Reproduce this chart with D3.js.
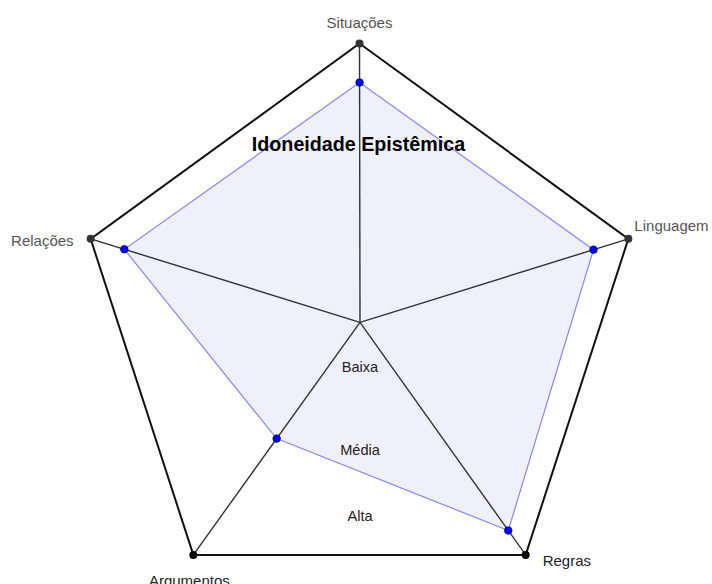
<!DOCTYPE html>
<html>
<head>
<meta charset="utf-8">
<script src="https://cdnjs.cloudflare.com/ajax/libs/d3/7.8.5/d3.min.js"></script>
<style>
  body { margin: 0; background: #fff; }
  text { font-family: "Liberation Sans", Arial, sans-serif; }
</style>
</head>
<body>
<div id="chart"></div>
<script>
(function() {
  var width = 712,
      height = 584;

  // eixos do radar
  var axes = ["Situações", "Linguagem", "Regras", "Argumentos", "Relações"];
  // valores (0 = centro, 1 = vértice externo)
  var values = [0.86, 0.87, 0.895, 0.50, 0.875];
  // níveis
  var levels = ["Baixa", "Média", "Alta"];
  var title = "Idoneidade Epistêmica";

  var cx = 359.5, cy = 326.2, R = 282.7;

  var svg = d3.select("#chart")
    .append("svg")
    .attr("width", width)
    .attr("height", height);

  var x = d3.scaleLinear().domain([-1, 1]).range([cx - R, cx + R]);
  var y = d3.scaleLinear().domain([-1, 1]).range([cy - R, cy + R]);
  var angle = d3.scaleLinear().domain([0, axes.length]).range([-Math.PI / 2, 1.5 * Math.PI]);

  var hub = [360, 322.3];

  var vertices = axes.map(function(d, i) {
    var a = angle(i);
    return [x(Math.cos(a)), y(Math.sin(a))];
  });

  var points = values.map(function(v, i) {
    var p = vertices[i];
    return [hub[0] + v * (p[0] - hub[0]), hub[1] + v * (p[1] - hub[1])];
  });

  var line = d3.line().curve(d3.curveLinearClosed);

  // área preenchida
  svg.append("path")
    .attr("d", line(points))
    .attr("fill", "#f0f0fd")
    .attr("stroke", "none");

  // eixos
  svg.selectAll(".axis")
    .data(vertices)
    .enter().append("line")
    .attr("class", "axis")
    .attr("x1", hub[0])
    .attr("y1", hub[1])
    .attr("x2", function(d) { return d[0] })
    .attr("y2", function(d) { return d[1] })
    .attr("stroke", "#333")
    .attr("stroke-width", 1.4);

  // pentágono externo
  svg.append("path")
    .attr("d", line(vertices))
    .attr("fill", "none")
    .attr("stroke", "#111")
    .attr("stroke-width", 2);

  svg.append("path")
    .attr("d", line(points))
    .attr("fill", "none")
    .attr("stroke", "#8585ff")
    .attr("stroke-width", 1.2);

  svg.selectAll(".vertex")
    .data(vertices)
    .enter().append("circle")
    .attr("class", "vertex")
    .attr("cx", function(d) { return d[0] })
    .attr("cy", function(d) { return d[1] })
    .attr("r", 4)
    .attr("fill", function(d, i) { return i >= 2 && i <= 3 ? "#000" : "#333" });

  svg.selectAll(".point")
    .data(points)
    .enter().append("circle")
    .attr("class", "point")
    .attr("cx", function(d) { return d[0] })
    .attr("cy", function(d) { return d[1] })
    .attr("r", 3.8)
    .attr("fill", "#0000ff")
    .attr("stroke", "#101040")
    .attr("stroke-width", 0.8);

  // rótulos dos eixos
  var labelPos = [
    { dx: 0, dy: -16, anchor: "middle", color: "#555" },
    { dx: 6, dy: -8, anchor: "start", color: "#555" },
    { dx: 17, dy: 11, anchor: "start", color: "#222" },
    { dx: -4, dy: 31, anchor: "middle", color: "#222" },
    { dx: -17, dy: 7, anchor: "end", color: "#555" }
  ];

  svg.selectAll(".label")
    .data(axes)
    .enter().append("text")
    .attr("class", "label")
    .attr("x", function(d, i) { return vertices[i][0] + labelPos[i].dx })
    .attr("y", function(d, i) { return vertices[i][1] + labelPos[i].dy })
    .attr("text-anchor", function(d, i) { return labelPos[i].anchor })
    .attr("fill", function(d, i) { return labelPos[i].color })
    .attr("font-size", 15)
    .text(function(d) { return d });

  var levelOffsets = [50, 133, 199];
  svg.selectAll(".level")
    .data(levels)
    .enter().append("text")
    .attr("class", "level")
    .attr("x", hub[0])
    .attr("y", function(d, i) { return hub[1] + levelOffsets[i] })
    .attr("text-anchor", "middle")
    .attr("fill", "#222")
    .attr("font-size", 14.6)
    .text(function(d) { return d });

  svg.append("text")
    .attr("x", 358.5)
    .attr("y", 151)
    .attr("text-anchor", "middle")
    .attr("font-weight", "bold")
    .attr("font-size", 19.7)
    .attr("fill", "#000")
    .text(title);
})();
</script>
</body>
</html>
